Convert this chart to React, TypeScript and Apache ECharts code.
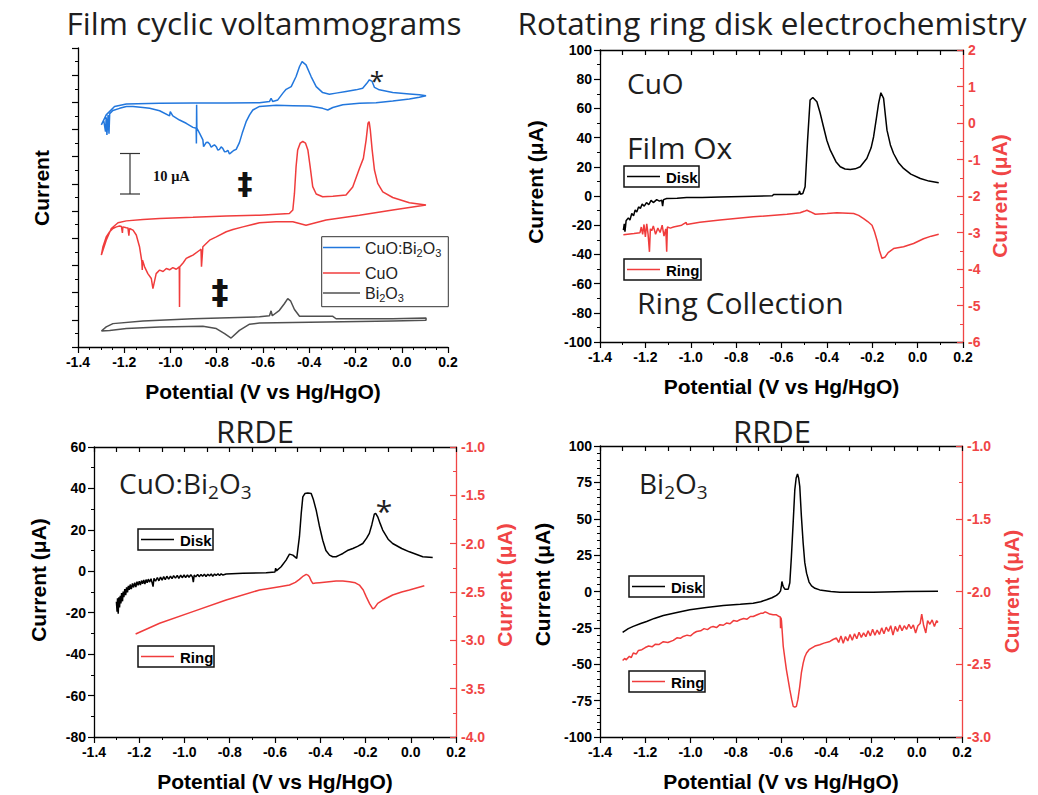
import React, { useEffect, useRef } from 'react';
import * as echarts from 'echarts';

// ---------- Panel 1: film cyclic voltammograms (offset, arbitrary units) ----------
const cvCuOBi2O3: number[][] = [
  [-1.299, 81.7], [-1.278, 85.4], [-1.242, 88.5], [-1.191, 89.4], [-1.047, 89.7], [-0.903, 89.8],
  [-0.759, 89.8], [-0.615, 89.9], [-0.572, 90.3], [-0.565, 91.5], [-0.558, 90.3], [-0.536, 90.9],
  [-0.514, 93.4], [-0.5, 94.8], [-0.478, 95.8], [-0.457, 99.5], [-0.442, 103.2], [-0.431, 105.0],
  [-0.414, 103.8], [-0.392, 99.5], [-0.37, 95.8], [-0.342, 93.6], [-0.313, 93.0], [-0.284, 93.4],
  [-0.241, 94.0], [-0.198, 94.6], [-0.169, 95.2], [-0.151, 97.0], [-0.14, 98.3], [-0.128, 97.7],
  [-0.118, 95.5], [-0.097, 94.6], [-0.039, 93.6], [0.033, 93.1], [0.076, 92.8], [0.105, 92.4],
  [0.076, 91.9], [0.033, 91.2], [-0.039, 90.5], [-0.111, 89.9], [-0.183, 89.7], [-0.255, 89.1],
  [-0.298, 88.1], [-0.32, 87.2], [-0.342, 87.8], [-0.399, 88.7], [-0.471, 88.8], [-0.543, 88.9],
  [-0.615, 88.5], [-0.644, 87.2], [-0.658, 85.4], [-0.673, 82.9], [-0.69, 78.6], [-0.702, 75.2],
  [-0.716, 72.7], [-0.727, 72.3], [-0.738, 71.5], [-0.745, 71.0], [-0.752, 72.4], [-0.759, 71.9],
  [-0.766, 71.8], [-0.774, 73.1], [-0.781, 73.6], [-0.788, 72.7], [-0.795, 72.4], [-0.802, 73.7],
  [-0.81, 74.4], [-0.817, 74.0], [-0.824, 73.5], [-0.831, 74.7], [-0.838, 75.3], [-0.846, 75.2],
  [-0.857, 73.7], [-0.86, 76.2], [-0.874, 78.6], [-0.886, 80.5], [-0.887, 89.1], [-0.888, 74.9],
  [-0.889, 80.5], [-0.903, 80.8], [-0.932, 82.3], [-0.961, 83.5], [-0.99, 85.0], [-1.001, 86.6],
  [-1.004, 85.0], [-1.047, 86.9], [-1.09, 87.8], [-1.119, 88.1], [-1.162, 88.5], [-1.191, 88.5],
  [-1.22, 87.8], [-1.249, 87.0], [-1.263, 85.8], [-1.266, 78.5], [-1.27, 85.3], [-1.275, 78.0],
  [-1.278, 84.5], [-1.281, 79.2], [-1.289, 83.5], [-1.299, 81.7],
];

const cvCuO: number[][] = [
  [0.105, 52.2], [-0.039, 50.4], [-0.183, 48.5], [-0.327, 46.7], [-0.414, 44.8], [-0.471, 46.1],
  [-0.543, 46.1], [-0.615, 45.7], [-0.687, 44.2], [-0.73, 43.2], [-0.759, 42.4], [-0.802, 40.5],
  [-0.831, 39.3], [-0.86, 36.9], [-0.866, 29.5], [-0.868, 36.0], [-0.874, 35.6], [-0.903, 33.8],
  [-0.918, 33.2], [-0.932, 32.6], [-0.945, 31.0], [-0.96, 29.5], [-0.961, 14.7], [-0.962, 29.5],
  [-0.975, 28.6], [-0.99, 29.2], [-1.004, 28.4], [-1.018, 28.9], [-1.032, 27.8], [-1.047, 28.3],
  [-1.062, 27.0], [-1.076, 21.5], [-1.083, 25.2], [-1.098, 27.0], [-1.112, 29.5], [-1.121, 31.9],
  [-1.122, 28.3], [-1.124, 31.5], [-1.134, 36.9], [-1.148, 41.2], [-1.162, 43.0], [-1.177, 43.6],
  [-1.18, 41.0], [-1.184, 43.8], [-1.191, 43.9], [-1.206, 44.2], [-1.208, 42.0], [-1.212, 44.3],
  [-1.22, 44.5], [-1.234, 44.2], [-1.249, 43.6], [-1.263, 42.4], [-1.278, 40.5], [-1.292, 36.9],
  [-1.299, 33.8], [-1.278, 39.3], [-1.256, 43.6], [-1.227, 45.7], [-1.191, 46.4], [-1.119, 46.9],
  [-1.047, 47.3], [-0.903, 47.7], [-0.759, 48.2], [-0.615, 48.5], [-0.486, 49.1], [-0.471, 50.4],
  [-0.464, 56.5], [-0.457, 66.3], [-0.45, 72.5], [-0.439, 75.0], [-0.428, 75.6], [-0.416, 75.0],
  [-0.406, 72.5], [-0.396, 66.3], [-0.385, 59.0], [-0.37, 56.3], [-0.342, 55.3], [-0.298, 55.5],
  [-0.241, 55.9], [-0.212, 58.9], [-0.183, 65.7], [-0.166, 69.4], [-0.154, 76.2], [-0.146, 82.3],
  [-0.141, 82.9], [-0.136, 79.9], [-0.128, 72.5], [-0.118, 65.1], [-0.104, 60.2], [-0.082, 57.1],
  [-0.039, 55.0], [0.033, 53.1], [0.105, 52.2],
];

const cvBi2O3: number[][] = [
  [-1.299, 5.9], [-1.278, 7.4], [-1.249, 8.6], [-1.119, 9.6], [-0.903, 10.4], [-0.615, 11.1],
  [-0.572, 11.5], [-0.565, 13.3], [-0.56, 11.5], [-0.529, 13.5], [-0.507, 16.0], [-0.493, 17.8],
  [-0.481, 17.0], [-0.464, 13.8], [-0.442, 11.3], [-0.298, 11.3], [-0.284, 10.4], [-0.183, 10.4],
  [-0.039, 10.4], [0.105, 10.7], [0.105, 9.8], [-0.039, 9.6], [-0.327, 9.2], [-0.615, 8.8],
  [-0.658, 8.4], [-0.702, 6.1], [-0.738, 3.3], [-0.766, 4.9], [-0.802, 6.8], [-0.86, 7.6],
  [-1.047, 7.4], [-1.191, 6.8], [-1.263, 6.1], [-1.299, 5.9],
];

// ---------- Panel 2: CuO RRDE ----------
const cuoDisk: number[][] = [
  [-1.297, -23.4], [-1.293, -19.0], [-1.29, -24.5], [-1.285, -17.0], [-1.275, -15.0], [-1.268, -16.5],
  [-1.26, -12.0], [-1.252, -13.5], [-1.245, -9.5], [-1.238, -11.0], [-1.23, -7.5], [-1.222, -8.5],
  [-1.214, -5.5], [-1.205, -7.0], [-1.195, -4.5], [-1.185, -6.0], [-1.175, -3.0], [-1.165, -4.5],
  [-1.15, -2.5], [-1.138, -3.5], [-1.128, -2.8], [-1.124, -7.0], [-1.12, -2.5], [-1.106, -1.7],
  [-1.06, -1.5], [-1.018, -1.0], [-0.95, -1.0], [-0.871, -0.6], [-0.724, -0.1], [-0.64, 0.2],
  [-0.635, 1.0], [-0.532, 1.0], [-0.524, 1.5], [-0.521, 3.5], [-0.516, 1.2], [-0.506, 1.7],
  [-0.496, 6.3], [-0.485, 38.3], [-0.474, 65.7], [-0.462, 67.5], [-0.444, 64.6], [-0.43, 57],
  [-0.415, 47.4], [-0.4, 38], [-0.385, 31.4], [-0.36, 23.5], [-0.341, 20], [-0.32, 18.5],
  [-0.297, 18.2], [-0.275, 18.6], [-0.253, 20], [-0.224, 25.7], [-0.205, 33], [-0.194, 40.6],
  [-0.18, 55], [-0.172, 63.4], [-0.162, 70.7], [-0.15, 66.9], [-0.142, 55], [-0.135, 45.1],
  [-0.12, 35], [-0.106, 29.1], [-0.085, 23], [-0.062, 18.9], [-0.03, 15], [0.012, 12],
  [0.05, 10.2], [0.093, 9.0],
];
const cuoRing: number[][] = [
  [-1.297, -3.06], [-1.25, -3.03], [-1.224, -3.01], [-1.218, -2.85], [-1.212, -3.05], [-1.206, -2.78],
  [-1.2, -3.12], [-1.194, -2.76], [-1.188, -3.05], [-1.182, -3.53], [-1.178, -2.9], [-1.172, -2.95],
  [-1.165, -2.82], [-1.155, -3.05], [-1.145, -2.88], [-1.135, -3.0], [-1.126, -2.8], [-1.118, -3.1],
  [-1.11, -2.9], [-1.106, -3.53], [-1.103, -2.85], [-1.09, -2.88], [-1.076, -2.85], [-1.04, -2.8],
  [-1.02, -2.72], [-1.018, -2.78], [-0.96, -2.72], [-0.871, -2.66], [-0.724, -2.57], [-0.576, -2.5],
  [-0.518, -2.46], [-0.5, -2.42], [-0.488, -2.39], [-0.474, -2.43], [-0.451, -2.5], [-0.4, -2.48],
  [-0.356, -2.46], [-0.282, -2.48], [-0.26, -2.53], [-0.238, -2.62], [-0.22, -2.7], [-0.201, -2.8],
  [-0.19, -2.98], [-0.179, -3.21], [-0.168, -3.5], [-0.157, -3.71], [-0.143, -3.67], [-0.13, -3.55],
  [-0.106, -3.44], [-0.062, -3.39], [-0.018, -3.3], [0.026, -3.17], [0.06, -3.1], [0.093, -3.05],
];

// ---------- Panel 3: CuO:Bi2O3 RRDE ----------
const cuoBiDisk: number[][] = [
  [-1.301, -14.7], [-1.298, -19.5], [-1.296, -13.0], [-1.293, -20.5], [-1.29, -12.5], [-1.287, -17.5],
  [-1.284, -11.8], [-1.281, -15.5], [-1.278, -10.5], [-1.274, -14.5], [-1.271, -9.8], [-1.268, -12.5],
  [-1.264, -8.6], [-1.26, -11.5], [-1.256, -7.8], [-1.252, -10.2], [-1.248, -7.0], [-1.244, -9.0],
  [-1.24, -6.4], [-1.235, -8.6], [-1.23, -5.9], [-1.225, -7.8], [-1.22, -5.5], [-1.215, -7.6],
  [-1.21, -5.0], [-1.205, -6.8], [-1.2, -4.8], [-1.195, -6.6], [-1.19, -4.5], [-1.185, -6.0],
  [-1.18, -4.2], [-1.175, -6.2], [-1.17, -4.0], [-1.165, -5.5], [-1.16, -3.8], [-1.154, -5.2],
  [-1.148, -3.6], [-1.143, -5.6], [-1.139, -7.4], [-1.135, -3.4], [-1.128, -4.8], [-1.12, -3.0],
  [-1.113, -4.6], [-1.106, -2.8], [-1.099, -4.3], [-1.092, -2.6], [-1.085, -4.0], [-1.078, -2.4],
  [-1.07, -3.8], [-1.062, -2.3], [-1.055, -3.6], [-1.048, -2.1], [-1.04, -3.3], [-1.032, -2.0],
  [-1.025, -3.4], [-1.017, -1.9], [-1.01, -3.1], [-1.002, -1.8], [-0.995, -3.0], [-0.987, -1.8],
  [-0.98, -2.9], [-0.972, -1.7], [-0.965, -2.7], [-0.961, -5.2], [-0.957, -1.8], [-0.95, -2.7],
  [-0.942, -1.5], [-0.935, -2.6], [-0.927, -1.5], [-0.92, -2.4], [-0.912, -1.4], [-0.905, -2.5],
  [-0.897, -1.4], [-0.889, -2.2], [-0.882, -1.3], [-0.875, -2.4], [-0.867, -1.3], [-0.86, -2.0],
  [-0.852, -1.2], [-0.845, -2.1], [-0.838, -1.2], [-0.83, -1.8], [-0.816, -1.3], [-0.742, -1.0],
  [-0.639, -0.7], [-0.6, -0.3], [-0.597, 1.5], [-0.594, 0.2], [-0.573, 2.2], [-0.551, 5.4],
  [-0.536, 8.3], [-0.521, 7.8], [-0.504, 6.2], [-0.492, 16.7], [-0.484, 28], [-0.477, 35.9],
  [-0.468, 37.5], [-0.455, 37.8], [-0.44, 37.5], [-0.43, 34.5], [-0.418, 29.5], [-0.404, 22],
  [-0.389, 15.0], [-0.375, 10], [-0.359, 7.8], [-0.345, 7.0], [-0.33, 7.0], [-0.315, 7.8],
  [-0.3, 8.6], [-0.28, 10], [-0.256, 11.0], [-0.235, 12], [-0.212, 13.4], [-0.195, 16],
  [-0.183, 18.3], [-0.172, 22.5], [-0.161, 27.6], [-0.155, 28], [-0.146, 26.3], [-0.135, 23],
  [-0.124, 19.9], [-0.1, 15.5], [-0.08, 13.4], [-0.04, 11], [-0.006, 9.4], [0.053, 7.0], [0.097, 6.7],
];
const cuoBiRing: number[][] = [
  [-1.216, -2.934], [-1.11, -2.823], [-0.963, -2.703], [-0.816, -2.583], [-0.668, -2.479],
  [-0.58, -2.445], [-0.536, -2.428], [-0.51, -2.4], [-0.492, -2.369], [-0.475, -2.335],
  [-0.462, -2.318], [-0.455, -2.325], [-0.448, -2.342], [-0.44, -2.385], [-0.433, -2.411],
  [-0.42, -2.408], [-0.403, -2.404], [-0.33, -2.387], [-0.3, -2.387], [-0.271, -2.393],
  [-0.245, -2.405], [-0.227, -2.428], [-0.21, -2.48], [-0.197, -2.548], [-0.182, -2.62],
  [-0.168, -2.675], [-0.16, -2.665], [-0.146, -2.617], [-0.12, -2.58], [-0.08, -2.531],
  [-0.04, -2.5], [-0.006, -2.479], [0.06, -2.435],
];

// ---------- Panel 4: Bi2O3 RRDE ----------
const biDisk: number[][] = [
  [-1.3, -28.1], [-1.275, -25.5], [-1.253, -24.0], [-1.22, -22.0], [-1.194, -20.6], [-1.16, -18.5],
  [-1.12, -16.5], [-1.06, -14.5], [-1.003, -12.6], [-0.93, -11.0], [-0.855, -9.6], [-0.78, -8.8],
  [-0.723, -8.0], [-0.69, -7.0], [-0.664, -5.7], [-0.64, -4.3], [-0.62, -2.7], [-0.608, -1.0],
  [-0.602, 0.5], [-0.598, 4.0], [-0.596, 6.9], [-0.593, 5.0], [-0.59, 3.4], [-0.583, 1.6],
  [-0.568, 1.6], [-0.561, 6], [-0.554, 24.0], [-0.546, 48], [-0.539, 69.8], [-0.533, 78],
  [-0.527, 80.8], [-0.522, 78], [-0.517, 72.1], [-0.51, 52], [-0.502, 33.2], [-0.495, 20],
  [-0.487, 12.6], [-0.476, 6.5], [-0.465, 3.9], [-0.45, 2.2], [-0.429, 1.1], [-0.38, 0],
  [-0.34, -0.5], [-0.193, -0.5], [-0.046, 0], [0.094, 0.2],
];
const biRing: number[][] = [
  [-1.3, -2.474], [-1.29, -2.46], [-1.285, -2.47], [-1.27, -2.445], [-1.262, -2.455], [-1.253, -2.423],
  [-1.24, -2.43], [-1.23, -2.405], [-1.215, -2.4], [-1.2, -2.385], [-1.185, -2.375], [-1.17, -2.38],
  [-1.155, -2.362], [-1.14, -2.365], [-1.12, -2.345], [-1.1, -2.35], [-1.076, -2.336], [-1.06, -2.318],
  [-1.045, -2.322], [-1.032, -2.309], [-1.015, -2.3], [-1.0, -2.305], [-0.985, -2.285], [-0.973, -2.275],
  [-0.955, -2.27], [-0.94, -2.255], [-0.925, -2.262], [-0.91, -2.245], [-0.9, -2.24], [-0.885, -2.248],
  [-0.87, -2.228], [-0.855, -2.232], [-0.841, -2.217], [-0.825, -2.222], [-0.81, -2.2], [-0.795, -2.205],
  [-0.782, -2.194], [-0.765, -2.185], [-0.75, -2.19], [-0.735, -2.172], [-0.723, -2.172], [-0.705, -2.16],
  [-0.69, -2.15], [-0.679, -2.149], [-0.67, -2.14], [-0.664, -2.144], [-0.65, -2.155], [-0.635, -2.16],
  [-0.62, -2.16], [-0.608, -2.172], [-0.603, -2.175], [-0.602, -2.252], [-0.6, -2.18], [-0.598, -2.2],
  [-0.59, -2.378], [-0.583, -2.46], [-0.576, -2.538], [-0.568, -2.61], [-0.561, -2.675], [-0.553, -2.74],
  [-0.546, -2.789], [-0.539, -2.795], [-0.532, -2.789], [-0.525, -2.74], [-0.517, -2.652], [-0.51, -2.56],
  [-0.502, -2.492], [-0.495, -2.45], [-0.487, -2.423], [-0.476, -2.4], [-0.465, -2.389], [-0.45, -2.375],
  [-0.429, -2.366], [-0.41, -2.355], [-0.384, -2.343], [-0.37, -2.33], [-0.355, -2.32], [-0.345, -2.35],
  [-0.335, -2.305], [-0.325, -2.355], [-0.315, -2.31], [-0.305, -2.34], [-0.295, -2.295], [-0.285, -2.335],
  [-0.275, -2.29], [-0.265, -2.325], [-0.255, -2.28], [-0.245, -2.315], [-0.235, -2.285], [-0.225, -2.31],
  [-0.215, -2.27], [-0.205, -2.305], [-0.195, -2.26], [-0.185, -2.3], [-0.175, -2.265], [-0.165, -2.295],
  [-0.155, -2.25], [-0.145, -2.29], [-0.135, -2.245], [-0.125, -2.275], [-0.115, -2.235], [-0.105, -2.3],
  [-0.095, -2.24], [-0.085, -2.275], [-0.075, -2.23], [-0.065, -2.27], [-0.055, -2.235], [-0.045, -2.26],
  [-0.035, -2.225], [-0.025, -2.255], [-0.015, -2.23], [-0.005, -2.285], [0.005, -2.235], [0.015, -2.22],
  [0.022, -2.155], [0.03, -2.23], [0.04, -2.285], [0.048, -2.2], [0.058, -2.225], [0.068, -2.195],
  [0.078, -2.24], [0.088, -2.2], [0.094, -2.213],
];

const AX_FONT = "'Liberation Sans', Arial, sans-serif";
const SANS = "'Open Sans', 'Noto Sans', sans-serif";
const RED = '#f03c3c';
const AXRED = '#f04545';
const BLUE = '#2277dd';
const GRAY = '#505050';
const X_NAME = 'Potential (V vs Hg/HgO)';
const Y_NAME = 'Current (\u03bcA)';

const fmt1 = (v: number) => (Math.abs(v) < 1e-9 ? '0.0' : v.toFixed(1));
const fmt0 = (v: number) => String(Math.round(v));

function bottomX(gridIndex: number, minorSplit: number) {
  return {
    type: 'value', gridIndex, position: 'bottom', min: -1.4, max: 0.2, interval: 0.2,
    axisLine: { show: true, onZero: false, lineStyle: { color: '#000', width: 1.3 } },
    axisTick: { show: true, inside: false, length: 6, lineStyle: { color: '#000', width: 1.2 } },
    minorTick: { show: true, splitNumber: minorSplit, length: 3, lineStyle: { color: '#000', width: 1 } },
    axisLabel: { show: true, color: '#000', fontSize: 14, fontWeight: 'bold', fontFamily: AX_FONT, margin: 8, formatter: fmt1 },
    splitLine: { show: false }, minorSplitLine: { show: false },
    name: X_NAME, nameLocation: 'middle', nameGap: 34,
    nameTextStyle: { color: '#000', fontSize: 21, fontWeight: 'bold', fontFamily: AX_FONT },
  };
}
function topX(gridIndex: number) {
  return {
    type: 'value', gridIndex, position: 'top', min: -1.4, max: 0.2, interval: 0.1,
    axisLine: { show: true, onZero: false, lineStyle: { color: '#000', width: 1.3 } },
    axisTick: { show: true, inside: true, length: 5, lineStyle: { color: '#000', width: 1.2 } },
    minorTick: { show: false }, axisLabel: { show: false }, splitLine: { show: false },
  };
}
function leftY(gridIndex: number, min: number, max: number, interval: number, minorSplit: number,
  showLabels: boolean, name: string, nameGap: number, shift: number, fmt: (v: number) => string) {
  return {
    type: 'value', gridIndex, position: 'left', min, max, interval,
    axisLine: { show: true, onZero: false, lineStyle: { color: '#000', width: 1.3 } },
    axisTick: { show: true, inside: false, length: 6, lineStyle: { color: '#000', width: 1.2 } },
    minorTick: { show: true, splitNumber: minorSplit, length: 3, lineStyle: { color: '#000', width: 1 } },
    axisLabel: { show: showLabels, color: '#000', fontSize: 14, fontWeight: 'bold', fontFamily: AX_FONT, margin: 8, formatter: fmt },
    splitLine: { show: false }, minorSplitLine: { show: false },
    name, nameLocation: 'middle', nameGap, nameRotate: 90,
    nameTextStyle: { color: '#000', fontSize: 21, fontWeight: 'bold', fontFamily: AX_FONT, padding: [0, 0, 0, shift] },
  };
}
function rightY(gridIndex: number, min: number, max: number, interval: number, nameGap: number, shift: number, fmt: (v: number) => string) {
  return {
    type: 'value', gridIndex, position: 'right', min, max, interval,
    axisLine: { show: true, onZero: false, lineStyle: { color: AXRED, width: 1.3 } },
    axisTick: { show: true, inside: true, length: 6, lineStyle: { color: AXRED, width: 1.2 } },
    minorTick: { show: true, splitNumber: 2, length: 3, lineStyle: { color: AXRED, width: 1 } },
    axisLabel: { show: true, color: AXRED, fontSize: 14, fontWeight: 'bold', fontFamily: AX_FONT, margin: 5, formatter: fmt },
    splitLine: { show: false }, minorSplitLine: { show: false },
    name: Y_NAME, nameLocation: 'middle', nameGap, nameRotate: 90,
    nameTextStyle: { color: AXRED, fontSize: 21, fontWeight: 'bold', fontFamily: AX_FONT, padding: [0, 0, 0, shift] },
  };
}

function line(data: number[][], xAxisIndex: number, yAxisIndex: number, color: string, name: string) {
  return {
    type: 'line', name, data, xAxisIndex, yAxisIndex, showSymbol: false, symbol: 'none',
    lineStyle: { color, width: 1.5 }, itemStyle: { color }, silent: true, z: 3,
  };
}

function text(x: number, y: number, t: string, size: number, extra: any = {}) {
  return {
    type: 'text', x, y, z: 100,
    style: {
      text: t, fontSize: size, fontFamily: SANS, fill: '#1e1e1e',
      textAlign: 'left', align: 'left', textVerticalAlign: 'middle', verticalAlign: 'middle', ...extra,
    },
  };
}
function richSub(x: number, y: number, parts: string, size: number, subSize: number, lh: number, slh: number, family: string, color: string) {
  return {
    type: 'text', x, y, z: 100,
    style: {
      text: parts, fill: color, textAlign: 'left', align: 'left', textVerticalAlign: 'middle', verticalAlign: 'middle',
      rich: {
        a: { fontSize: size, fontFamily: family, fill: color, color, lineHeight: lh },
        s: { fontSize: subSize, fontFamily: family, fill: color, color, lineHeight: slh, verticalAlign: 'bottom' },
      },
    },
  };
}
function hline(x1: number, y1: number, x2: number, y2: number, color: string, w: number) {
  return { type: 'line', z: 100, shape: { x1, y1, x2, y2 }, style: { stroke: color, lineWidth: w } };
}
function legendBox(x: number, y: number, w: number, color: string, label: string) {
  return [
    { type: 'rect', z: 100, shape: { x, y, width: w, height: 21 }, style: { fill: 'none', stroke: '#111', lineWidth: 1.5 } },
    hline(x + 3, y + 10.5, x + 36, y + 10.5, color, 1.5),
    text(x + 42, y + 11, label, 15, { fontFamily: AX_FONT, fontWeight: 'bold', fill: '#000' }),
  ];
}

const option = {
  animation: false,
  backgroundColor: '#fff',
  grid: [
    { left: 78, top: 48, width: 370, height: 299, outerBoundsMode: 'none', containLabel: false },
    { left: 600, top: 50, width: 363, height: 292, outerBoundsMode: 'none', containLabel: false },
    { left: 94, top: 447, width: 362, height: 290, outerBoundsMode: 'none', containLabel: false },
    { left: 600, top: 446, width: 362, height: 291, outerBoundsMode: 'none', containLabel: false },
  ],
  xAxis: [bottomX(0, 4), bottomX(1, 2), topX(1), bottomX(2, 2), topX(2), bottomX(3, 2), topX(3)],
  yAxis: [
    leftY(0, 0, 110, 10, 2, false, 'Current', 26, 19, fmt0),
    leftY(1, -100, 100, 20, 2, true, Y_NAME, 54, 28, fmt0),
    rightY(1, -6, 2, 1, 26, 0, fmt0),
    leftY(2, -80, 60, 20, 2, true, Y_NAME, 45, 24, fmt0),
    rightY(2, -4, -1, 0.5, 38, 14, fmt1),
    leftY(3, -100, 100, 25, 5, true, Y_NAME, 47, 14, fmt0),
    rightY(3, -3, -1, 0.5, 39, 0, fmt1),
  ],
  series: [
    line(cvCuOBi2O3, 0, 0, BLUE, 'CuO:Bi2O3 film'),
    line(cvCuO, 0, 0, RED, 'CuO film'),
    line(cvBi2O3, 0, 0, GRAY, 'Bi2O3 film'),
    line(cuoDisk, 1, 1, '#000', 'CuO Disk'),
    line(cuoRing, 1, 2, RED, 'CuO Ring'),
    line(cuoBiDisk, 3, 3, '#000', 'CuO:Bi2O3 Disk'),
    line(cuoBiRing, 3, 4, RED, 'CuO:Bi2O3 Ring'),
    line(biDisk, 5, 5, '#000', 'Bi2O3 Disk'),
    line(biRing, 5, 6, RED, 'Bi2O3 Ring'),
  ],
  graphic: {
    elements: [
      // titles
      text(264, 22, 'Film cyclic voltammograms', 31.5, { textAlign: 'center', align: 'center' }),
      text(772, 22, 'Rotating ring disk electrochemistry', 31.5, { textAlign: 'center', align: 'center' }),
      text(255, 431, 'RRDE', 31, { textAlign: 'center', align: 'center' }),
      text(772, 431, 'RRDE', 31, { textAlign: 'center', align: 'center' }),
      // panel 1 annotations
      hline(130, 153.5, 130, 194, '#333', 1.2),
      hline(120, 153.5, 140, 153.5, '#333', 1.2),
      hline(120, 194, 140, 194, '#333', 1.2),
      text(153, 175.5, '10 \u03bcA', 14.5, { fontFamily: "'Liberation Serif', 'DejaVu Serif', serif", fontWeight: 'bold', fill: '#111' }),
      text(245, 183, '\u2021', 30, { fontFamily: "'DejaVu Sans', sans-serif", fontWeight: 'bold', fill: '#111', textAlign: 'center', align: 'center' }),
      text(220, 292, '\u2021', 34, { fontFamily: "'DejaVu Sans', sans-serif", fontWeight: 'bold', fill: '#111', textAlign: 'center', align: 'center' }),
      text(377, 80, '*', 26, { textAlign: 'center', align: 'center' }),
      { type: 'rect', z: 100, shape: { x: 321.7, y: 236.7, width: 126.6, height: 70 }, style: { fill: 'none', stroke: '#333', lineWidth: 1 } },
      hline(323, 247.5, 360, 247.5, BLUE, 1.5),
      hline(323, 273, 360, 273, RED, 1.5),
      hline(323, 293, 360, 293, GRAY, 1.5),
      richSub(365, 248, '{a|CuO:Bi}{s|2}{a|O}{s|3}', 16, 11, 20, 9, AX_FONT, '#222'),
      text(365, 273, 'CuO', 16, { fontFamily: AX_FONT, fill: '#222' }),
      richSub(365, 293, '{a|Bi}{s|2}{a|O}{s|3}', 16, 11, 20, 9, AX_FONT, '#222'),
      // panel 2 annotations
      text(627, 83, 'CuO', 28),
      text(627, 147, 'Film Ox', 30),
      text(637, 302, 'Ring Collection', 30),
      ...legendBox(624, 166, 75, '#000', 'Disk'),
      ...legendBox(624, 259, 77, RED, 'Ring'),
      // panel 3 annotations
      richSub(119, 483, '{a|CuO:Bi}{s|2}{a|O}{s|3}', 28, 19, 36, 16, SANS, '#1e1e1e'),
      text(384, 510, '*', 30, { textAlign: 'center', align: 'center' }),
      ...legendBox(138, 529, 75, '#000', 'Disk'),
      ...legendBox(138, 646, 76, RED, 'Ring'),
      // panel 4 annotations
      richSub(639, 483, '{a|Bi}{s|2}{a|O}{s|3}', 28, 19, 36, 16, SANS, '#1e1e1e'),
      ...legendBox(629, 576, 75, '#000', 'Disk'),
      ...legendBox(629, 671, 76, RED, 'Ring'),
    ],
  },
};

export default function App() {
  const ref = useRef<HTMLDivElement>(null);
  useEffect(() => {
    const chart = echarts.init(ref.current as HTMLDivElement, null, { renderer: 'svg' });
    chart.setOption(option as any);
    return () => chart.dispose();
  }, []);
  return (
    <div
      ref={ref}
      style={{ position: 'absolute', left: 0, top: 0, width: 1038, height: 795, background: '#fff' }}
    />
  );
}
